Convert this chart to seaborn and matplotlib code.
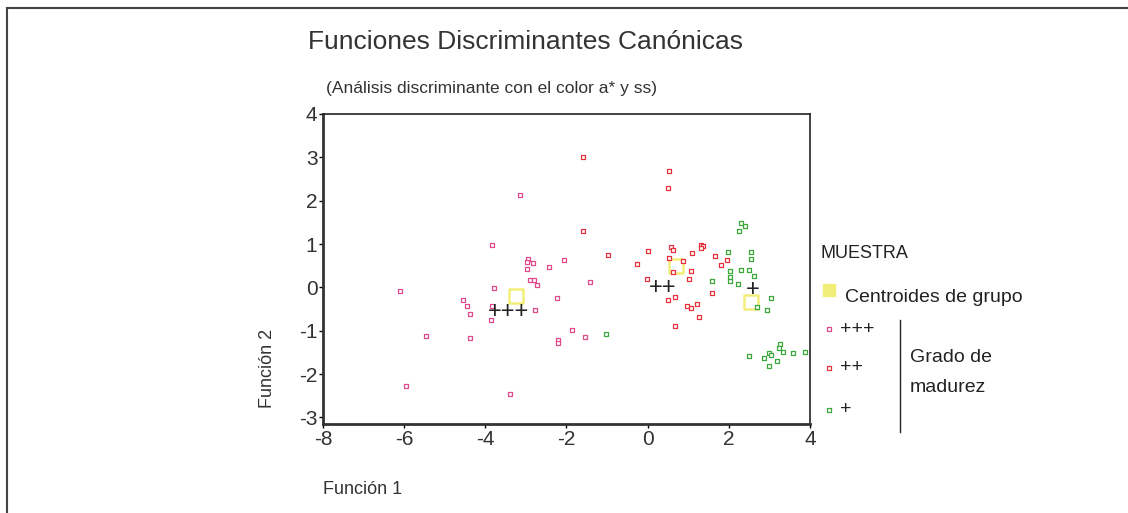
import pandas as pd
import seaborn as sns
import matplotlib.pyplot as plt

# canonical discriminant scores
x_3 = [-3.15, -3.83, -2.95, -2.98, -2.82, -2.98, -2.43, -2.90, -2.80, -2.73, -3.79, -6.11,
       -4.55, -4.44, -4.38, -3.83, -3.87, -2.78, -2.22, -5.47, -4.38, -5.96, -3.39, -2.20,
       -2.20, -2.06, -1.42, -1.86, -1.53]
y_3 = [2.13, 0.98, 0.66, 0.59, 0.57, 0.42, 0.47, 0.17, 0.17, 0.06, -0.02, -0.09,
       -0.30, -0.44, -0.62, -0.44, -0.76, -0.51, -0.25, -1.13, -1.17, -2.28, -2.45, -1.21,
       -1.28, 0.63, 0.13, -0.98, -1.15]

x_2 = [-1.58, 0.54, 0.50, -0.98, 0.02, -0.25, -0.02, 0.58, 0.63, 0.54, 0.87, 0.62,
       1.06, 1.03, 1.10, 1.31, 1.37, 1.31, 1.67, 1.95, 1.80, 1.59, 0.50, 0.67,
       0.98, 1.06, 1.22, 1.27, 0.67, -1.58]
y_2 = [3.01, 2.68, 2.29, 0.75, 0.83, 0.53, 0.19, 0.94, 0.87, 0.68, 0.60, 0.35,
       0.39, 0.20, 0.79, 0.98, 0.96, 0.91, 0.72, 0.64, 0.51, -0.13, -0.29, -0.21,
       -0.43, -0.47, -0.39, -0.69, -0.88, 1.30]

x_1 = [2.29, 2.41, 2.25, 1.98, 2.54, 2.54, 2.02, 2.30, 2.50, 2.62, 2.02, 2.02,
       1.58, 2.22, 3.03, 2.70, 2.95, -1.02, 2.51, 2.87, 2.99, 3.03, 2.99, 3.18,
       3.26, 3.23, 3.34, 3.59, 3.87]
y_1 = [1.49, 1.41, 1.30, 0.82, 0.82, 0.66, 0.38, 0.41, 0.40, 0.26, 0.23, 0.15,
       0.15, 0.07, -0.25, -0.45, -0.51, -1.08, -1.59, -1.62, -1.52, -1.55, -1.81, -1.70,
       -1.30, -1.40, -1.48, -1.51, -1.48]

cent_x = [-3.25, 0.69, 2.54]
cent_y = [-0.19, 0.49, -0.34]
group_names = ["+++", "++", "+"]
label_x = [-3.42, 0.36, 2.60]
label_y = [-0.57, -0.02, -0.06]

colors = {"+++": "#e04a8c", "++": "#e8303c", "+": "#3aa83a"}

df = pd.concat([
    pd.DataFrame({"f1": x_3, "f2": y_3, "grado": "+++"}),
    pd.DataFrame({"f1": x_2, "f2": y_2, "grado": "++"}),
    pd.DataFrame({"f1": x_1, "f2": y_1, "grado": "+"}),
])
cent = pd.DataFrame({"f1": cent_x, "f2": cent_y, "grado": group_names})

plt.rcParams["font.family"] = ["Liberation Sans", "DejaVu Sans"]
plt.rcParams["axes.unicode_minus"] = False

fig = plt.figure(figsize=(11.28, 5.13), dpi=100)
ax = fig.add_axes([0.2863, 0.1735, 0.4317, 0.6043])

for g in group_names:
    sub = df[df["grado"] == g]
    sns.scatterplot(data=sub, x="f1", y="f2", marker="s", s=11, color="white",
                    edgecolor=colors[g], linewidth=0.9, ax=ax, legend=False, zorder=3)

sns.scatterplot(data=cent, x="f1", y="f2", marker="s", s=90, color="white",
                edgecolor="#f2ee7a", linewidth=1.8, ax=ax, legend=False, zorder=2)

for lx, ly, name in zip(label_x, label_y, group_names):
    ax.text(lx, ly, name, ha="center", va="center", fontsize=17, color="#222222", zorder=4)

ax.set_xlim(-8, 4)
ax.set_ylim(-3.15, 4)
ax.set_xticks([-8, -6, -4, -2, 0, 2, 4])
ax.set_yticks([-3, -2, -1, 0, 1, 2, 3, 4])
ax.tick_params(labelsize=15, labelcolor="#333333", length=3, width=1, pad=1)
ax.set_xlabel("")
ax.set_ylabel("")
for side in ["left", "bottom"]:
    ax.spines[side].set_linewidth(2)
    ax.spines[side].set_color("#333333")
for side in ["top", "right"]:
    ax.spines[side].set_linewidth(1.2)
    ax.spines[side].set_color("#222222")

# overlay in pixel units for titles, legend and page frame
ov = fig.add_axes([0, 0, 1, 1], zorder=-1)
ov.set_xlim(0, 1128)
ov.set_ylim(513, 0)
ov.axis("off")

ov.plot([7, 1128], [8, 8], color="#444444", lw=1.5)
ov.plot([7, 7], [8, 513], color="#444444", lw=1.5)

ov.text(525, 42, "Funciones Discriminantes Canónicas", ha="center", va="center",
        fontsize=19, color="#333333")
ov.text(491, 88, "(Análisis discriminante con el color a* y ss)", ha="center", va="center",
        fontsize=12.5, color="#333333")
ov.text(268, 368, "Función 2", rotation=90, ha="center", va="center",
        fontsize=13, color="#333333")
ov.text(323, 490, "Función 1", ha="left", va="center", fontsize=13, color="#333333")

ov.text(820, 254, "MUESTRA", ha="left", va="center", fontsize=13, color="#222222")
ov.scatter([829], [290], marker="s", s=70, color="#f2ee7a", edgecolor="#f2ee7a", zorder=2)
ov.text(845, 297, "Centroides de grupo", ha="left", va="center", fontsize=14, color="#222222")
for py, g in zip([329, 368, 410], group_names):
    ov.scatter([829], [py], marker="s", s=8, color="white", edgecolor=colors[g], linewidth=0.9)
    ov.text(840, py, g, ha="left", va="center", fontsize=14, color="#222222")
ov.plot([900, 900], [320, 432], color="#222222", lw=1)
ov.text(910, 357, "Grado de", ha="left", va="center", fontsize=14, color="#222222")
ov.text(910, 387, "madurez", ha="left", va="center", fontsize=14, color="#222222")

fig.savefig("out.png", dpi=100)
